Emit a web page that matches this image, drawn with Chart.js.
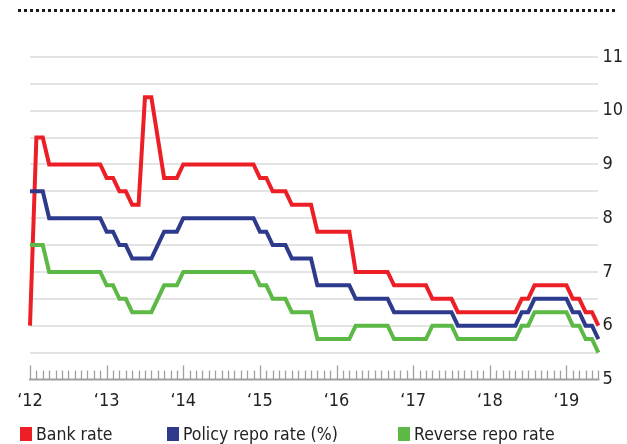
<!DOCTYPE html>
<html>
<head>
<meta charset="utf-8">
<script src="https://cdn.jsdelivr.net/npm/chart.js@4"></script>
<style>
  html, body { margin: 0; padding: 0; background: #fff; }
  #wrap { position: relative; width: 627px; height: 444px; overflow: hidden; }
  #dots {
    position: absolute; left: 18px; top: 9px; width: 598px; height: 3px;
    background: repeating-linear-gradient(to right, #1a1a1a 0 3px, transparent 3px 6px);
  }
  canvas { position: absolute; left: 0; top: 0; }
  .key { position: absolute; top: 427px; width: 12px; height: 14px; }
  .lbl { position: absolute; top: 424px; font: 17.5px "DejaVu Sans Condensed", sans-serif; color: #222; white-space: nowrap; }
</style>
</head>
<body>
<div id="wrap">
  <div id="dots"></div>
  <canvas id="rates" width="627" height="444"></canvas>
  <div class="key" style="left:20px;background:#ec1f27"></div><div class="lbl" style="left:36px">Bank rate</div>
  <div class="key" style="left:167px;background:#2e3a8c"></div><div class="lbl" style="left:183px">Policy repo rate (%)</div>
  <div class="key" style="left:398px;background:#5cb946"></div><div class="lbl" style="left:414px">Reverse repo rate</div>
</div>
<script>
// monthly values, Jan 2012 .. Jun 2019
const years = [2012, 2013, 2014, 2015, 2016, 2017, 2018, 2019];
const yearLabels = ['‘12', '‘13', '‘14', '‘15', '‘16', '‘17', '‘18', '‘19'];
const lastMonth = 6; // data stops in June 2019

const bankRate = [
    6.0, 9.5, 9.5, 9.0, 9.0, 9.0, 9.0, 9.0, 9.0, 9.0, 9.0, 9.0,
    8.75, 8.75, 8.5, 8.5, 8.25, 8.25, 10.25, 10.25, 9.5, 8.75, 8.75, 8.75,
    9.0, 9.0, 9.0, 9.0, 9.0, 9.0, 9.0, 9.0, 9.0, 9.0, 9.0, 9.0,
    8.75, 8.75, 8.5, 8.5, 8.5, 8.25, 8.25, 8.25, 8.25, 7.75, 7.75, 7.75,
    7.75, 7.75, 7.75, 7.0, 7.0, 7.0, 7.0, 7.0, 7.0, 6.75, 6.75, 6.75,
    6.75, 6.75, 6.75, 6.5, 6.5, 6.5, 6.5, 6.25, 6.25, 6.25, 6.25, 6.25,
    6.25, 6.25, 6.25, 6.25, 6.25, 6.5, 6.5, 6.75, 6.75, 6.75, 6.75, 6.75,
    6.75, 6.5, 6.5, 6.25, 6.25, 6.0
];
const repoRate = [
    8.5, 8.5, 8.5, 8.0, 8.0, 8.0, 8.0, 8.0, 8.0, 8.0, 8.0, 8.0,
    7.75, 7.75, 7.5, 7.5, 7.25, 7.25, 7.25, 7.25, 7.5, 7.75, 7.75, 7.75,
    8.0, 8.0, 8.0, 8.0, 8.0, 8.0, 8.0, 8.0, 8.0, 8.0, 8.0, 8.0,
    7.75, 7.75, 7.5, 7.5, 7.5, 7.25, 7.25, 7.25, 7.25, 6.75, 6.75, 6.75,
    6.75, 6.75, 6.75, 6.5, 6.5, 6.5, 6.5, 6.5, 6.5, 6.25, 6.25, 6.25,
    6.25, 6.25, 6.25, 6.25, 6.25, 6.25, 6.25, 6.0, 6.0, 6.0, 6.0, 6.0,
    6.0, 6.0, 6.0, 6.0, 6.0, 6.25, 6.25, 6.5, 6.5, 6.5, 6.5, 6.5,
    6.5, 6.25, 6.25, 6.0, 6.0, 5.75
];
const reverseRepoRate = [
    7.5, 7.5, 7.5, 7.0, 7.0, 7.0, 7.0, 7.0, 7.0, 7.0, 7.0, 7.0,
    6.75, 6.75, 6.5, 6.5, 6.25, 6.25, 6.25, 6.25, 6.5, 6.75, 6.75, 6.75,
    7.0, 7.0, 7.0, 7.0, 7.0, 7.0, 7.0, 7.0, 7.0, 7.0, 7.0, 7.0,
    6.75, 6.75, 6.5, 6.5, 6.5, 6.25, 6.25, 6.25, 6.25, 5.75, 5.75, 5.75,
    5.75, 5.75, 5.75, 6.0, 6.0, 6.0, 6.0, 6.0, 6.0, 5.75, 5.75, 5.75,
    5.75, 5.75, 5.75, 6.0, 6.0, 6.0, 6.0, 5.75, 5.75, 5.75, 5.75, 5.75,
    5.75, 5.75, 5.75, 5.75, 5.75, 6.0, 6.0, 6.25, 6.25, 6.25, 6.25, 6.25,
    6.25, 6.0, 6.0, 5.75, 5.75, 5.5
];

const labels = [];
years.forEach(function (y) {
    const n = y === 2019 ? lastMonth : 12;
    for (let m = 1; m <= n; m++) labels.push(y + '-' + String(m).padStart(2, '0'));
});

const axisFont = { family: '"DejaVu Sans Condensed", sans-serif', size: 18 };

// month ticks standing up from the base line
const monthTicks = {
    id: 'monthTicks',
    beforeDatasetsDraw(chart) {
        const { ctx, chartArea, scales } = chart;
        const x = scales.x;
        ctx.save();
        ctx.strokeStyle = '#a0a0a0';
        ctx.lineWidth = 2;
        ctx.beginPath();
        ctx.moveTo(chartArea.left - 1, chartArea.bottom);
        ctx.lineTo(chartArea.right + 1, chartArea.bottom);
        ctx.stroke();
        ctx.lineWidth = 1.3;
        ctx.beginPath();
        for (let i = 0; i < labels.length; i++) {
            const px = Math.round(x.getPixelForValue(i)) + 0.5;
            const len = i % 12 === 0 ? 14 : 9;
            ctx.moveTo(px, chartArea.bottom);
            ctx.lineTo(px, chartArea.bottom - len);
        }
        ctx.stroke();
        ctx.restore();
    }
};

function line(label, data, color) {
    return {
        label: label,
        data: data,
        borderColor: color,
        backgroundColor: color,
        borderWidth: 4,
        pointRadius: 0,
        tension: 0,
        fill: false
    };
}

new Chart(document.getElementById('rates'), {
    type: 'line',
    data: {
        labels: labels,
        datasets: [
            line('Reverse repo rate', reverseRepoRate, '#5cb946'),
            line('Policy repo rate (%)', repoRate, '#2e3a8c'),
            line('Bank rate', bankRate, '#ec1f27')
        ]
    },
    plugins: [monthTicks],
    options: {
        responsive: false,
        animation: false,
        layout: { padding: { left: 30, right: 0, top: 57, bottom: 21 } },
        plugins: {
            legend: { display: false },
            tooltip: { enabled: false }
        },
        scales: {
            x: {
                offset: false,
                grid: { display: false, drawTicks: false },
                border: { display: false },
                ticks: {
                    autoSkip: false,
                    maxRotation: 0,
                    padding: 11,
                    color: '#222',
                    font: axisFont,
                    callback: function (v, i) {
                        return i % 12 === 0 ? yearLabels[i / 12] : '';
                    }
                }
            },
            y: {
                position: 'right',
                min: 5,
                max: 11,
                grid: {
                    drawTicks: false,
                    lineWidth: 2,
                    color: function (c) {
                        return c.tick.value === 5 ? 'rgba(0,0,0,0)' : '#e4e4e4';
                    }
                },
                border: { display: false },
                ticks: {
                    stepSize: 0.5,
                    padding: 4,
                    color: '#222',
                    font: axisFont,
                    callback: function (v) {
                        return Number.isInteger(v) ? String(v) : '';
                    }
                }
            }
        }
    }
});
</script>
</body>
</html>
